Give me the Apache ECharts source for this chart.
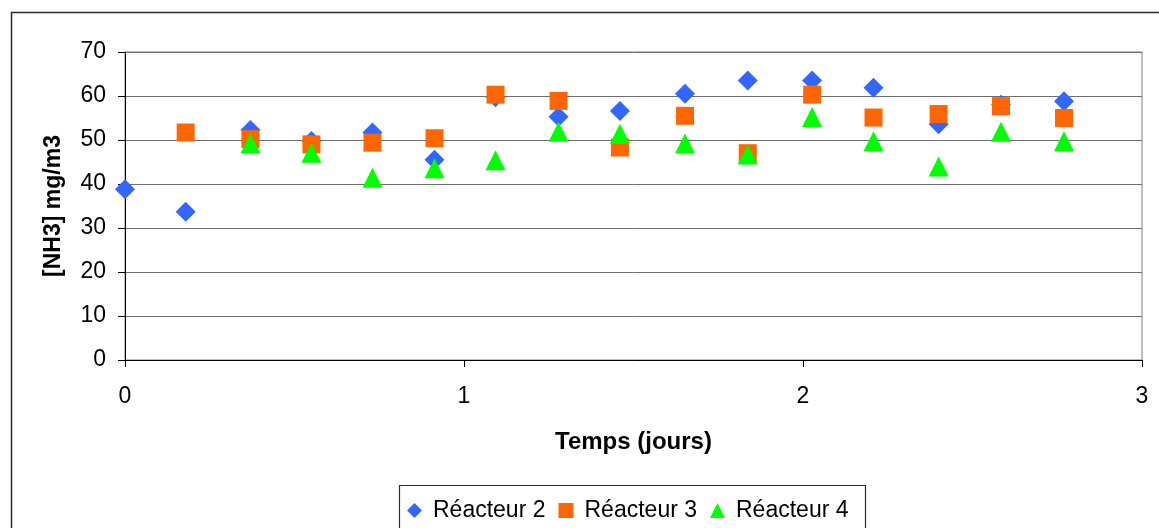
<!DOCTYPE html>
<html>
<head>
<meta charset="utf-8">
<script src="https://cdn.jsdelivr.net/npm/echarts@6/dist/echarts.min.js"></script>
<style>
  html, body { margin: 0; padding: 0; background: #fff; }
  #chart { width: 1159px; height: 528px; }
</style>
</head>
<body>
<div id="chart"></div>
<script>
// Sampling times (days) and NH3 concentrations (mg/m3) per reactor
const days = [0, 0.179, 0.37, 0.55, 0.73, 0.913, 1.093, 1.279, 1.46, 1.652, 1.837, 2.027, 2.208, 2.40, 2.584, 2.77];
const reacteur2 = [38.8, 33.7, 52.3, 49.8, 51.7, 45.5, 59.7, 55.3, 56.6, 60.5, 63.5, 63.5, 61.9, 53.6, 58.0, 58.8];
const reacteur3 = [null, 51.7, 50.2, 49.0, 49.4, 50.4, 60.3, 58.9, 48.3, 55.5, 47.0, 60.3, 55.1, 55.9, 57.7, 55.0];
const reacteur4 = [null, null, 49.2, 47.1, 41.4, 43.6, 45.4, 51.9, 51.4, 49.2, 46.7, 55.2, 49.7, 44.0, 51.9, 49.7];

const seriesNames = ['Réacteur 2', 'Réacteur 3', 'Réacteur 4'];
const xTitle = 'Temps (jours)';
const yTitle = '[NH3] mg/m3';

const FONT = "'Liberation Sans', Arial, sans-serif";

function pairs(values) {
  const out = [];
  values.forEach((v, i) => { if (v !== null) out.push([days[i], v]); });
  return out;
}

const chart = echarts.init(document.getElementById('chart'), null, { renderer: 'canvas' });

chart.setOption({
  animation: false,
  backgroundColor: '#ffffff',
  graphic: [
    // outer chart frame
    { type: 'rect', z: 0, silent: true,
      shape: { x: 11.5, y: 12.5, width: 1300, height: 700 },
      style: { fill: 'none', stroke: '#2b2b2b', lineWidth: 1.5 } },
    // legend frame
    { type: 'rect', z: 0, silent: true,
      shape: { x: 399.5, y: 485.5, width: 466, height: 200 },
      style: { fill: '#fff', stroke: '#2b2b2b', lineWidth: 1.2 } }
  ],
  grid: {
    left: 125, top: 52, width: 1017, height: 308,
    show: true, borderColor: '#7f7f7f', borderWidth: 1, backgroundColor: 'transparent'
  },
  legend: {
    left: 402, top: 494,
    itemWidth: 15, itemHeight: 15, itemGap: 13,
    textStyle: { fontFamily: FONT, fontSize: 23, color: '#000', padding: [0, 0, 0, 6] },
    data: [
      { name: seriesNames[0], icon: 'diamond' },
      { name: seriesNames[1], icon: 'rect' },
      { name: seriesNames[2], icon: 'triangle' }
    ]
  },
  xAxis: {
    type: 'value', min: 0, max: 3, interval: 1,
    name: xTitle, nameLocation: 'middle', nameGap: 70,
    nameTextStyle: { fontFamily: FONT, fontSize: 24, fontWeight: 'bold', color: '#000' },
    axisLine: { show: true, onZero: false, lineStyle: { color: '#000', width: 1 } },
    axisTick: { show: true, length: 7, lineStyle: { color: '#000' } },
    axisLabel: { margin: 25, fontFamily: FONT, fontSize: 23, color: '#000' },
    splitLine: { show: false }
  },
  yAxis: {
    type: 'value', min: 0, max: 70, interval: 10,
    name: yTitle, nameLocation: 'middle', nameGap: 60, nameRotate: 90,
    nameTextStyle: { fontFamily: FONT, fontSize: 23, fontWeight: 'bold', color: '#000' },
    axisLine: { show: true, onZero: false, lineStyle: { color: '#000', width: 1 } },
    axisTick: { show: true, length: 7, lineStyle: { color: '#000' } },
    axisLabel: { margin: 19, fontFamily: FONT, fontSize: 23, color: '#000' },
    splitLine: { show: true, lineStyle: { color: '#6e6e6e', width: 1 } }
  },
  series: [
    { name: seriesNames[0], type: 'scatter', symbol: 'diamond', symbolSize: 20,
      itemStyle: { color: '#3366FF', opacity: 1 }, data: pairs(reacteur2) },
    { name: seriesNames[1], type: 'scatter', symbol: 'rect', symbolSize: 18,
      itemStyle: { color: '#FF6600', opacity: 1 }, data: pairs(reacteur3) },
    { name: seriesNames[2], type: 'scatter', symbol: 'triangle', symbolSize: 20,
      itemStyle: { color: '#00FF00', opacity: 1 }, data: pairs(reacteur4) }
  ]
});
</script>
</body>
</html>
